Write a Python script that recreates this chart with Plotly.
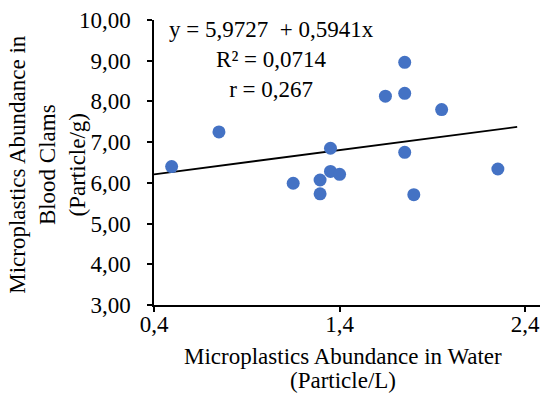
import plotly.graph_objects as go

water = [0.495, 0.75, 1.15, 1.295, 1.295, 1.351, 1.351, 1.40, 1.647, 1.751, 1.751, 1.751, 1.80, 1.95, 2.253]
clams = [6.40, 7.25, 5.99, 6.07, 5.73, 6.85, 6.28, 6.21, 8.13, 8.96, 8.20, 6.75, 5.71, 7.80, 6.34]

intercept = 5.9727
slope = 0.5941
trend_x = [0.4, 2.357]
trend_y = [intercept + slope * x for x in trend_x]

x_ticks = [0.4, 1.4, 2.4]
y_ticks = [3, 4, 5, 6, 7, 8, 9, 10]

FONT = "Liberation Serif, Times New Roman, serif"
fs = 23
fa = 23

fig = go.Figure()
fig.add_trace(go.Scatter(x=trend_x, y=trend_y, mode="lines",
                         line=dict(color="black", width=1.8), hoverinfo="skip"))
fig.add_trace(go.Scatter(x=water, y=clams, mode="markers",
                         marker=dict(color="#4472C4", size=13, line=dict(width=0))))

fig.update_layout(
    width=543, height=394,
    margin=dict(l=154, r=3, t=20, b=89, autoexpand=False),
    paper_bgcolor="white", plot_bgcolor="white",
    showlegend=False,
    separators=", ",
    font=dict(family=FONT, size=fs, color="black"),
)
fig.update_xaxes(range=[0.4, 2.48], tickvals=x_ticks, tickformat=".1f", automargin=False,
                 showgrid=False, zeroline=False, showline=True, linecolor="black", linewidth=1.5,
                 ticks="outside", ticklen=5, tickcolor="black", tickwidth=1.5,
                 ticklabelstandoff=-7,
                 tickfont=dict(family=FONT, size=fs, color="black"))
fig.update_yaxes(range=[3, 10], tickvals=y_ticks, tickformat=".2f", automargin=False,
                 showgrid=False, zeroline=False, showline=True, linecolor="black", linewidth=1.5,
                 ticks="outside", ticklen=5, tickcolor="black", tickwidth=1.5,
                 ticklabelstandoff=12,
                 tickfont=dict(family=FONT, size=fs, color="black"))

fig.add_annotation(text="y = 5,9727  + 0,5941x<br>R² = 0,0714<br>r = 0,267",
                   xref="paper", yref="paper", x=(271 - 154) / 386, y=(305 - 60) / 284.5,
                   xanchor="center", yanchor="middle", align="center", showarrow=False,
                   font=dict(family=FONT, size=fa, color="black"))
fig.add_annotation(text="Microplastics Abundance in Water",
                   xref="paper", yref="paper", x=(342.5 - 154) / 386, y=(305 - 356) / 284.5,
                   xanchor="center", yanchor="middle", align="center", showarrow=False,
                   font=dict(family=FONT, size=fs, color="black"))
fig.add_annotation(text="(Particle/L)",
                   xref="paper", yref="paper", x=(342.5 - 154) / 386, y=(305 - 380) / 284.5,
                   xanchor="center", yanchor="middle", align="center", showarrow=False,
                   font=dict(family=FONT, size=fs, color="black"))
fig.add_annotation(text="Microplastics Abundance in<br>Blood Clams<br>(Particle/g)",
                   xref="paper", yref="paper", x=(48 - 154) / 386, y=(305 - 165) / 284.5,
                   xanchor="center", yanchor="middle", align="center", showarrow=False,
                   textangle=-90,
                   font=dict(family=FONT, size=fs, color="black"))

fig.write_html("out.html", config={"displayModeBar": False},
               post_script="document.body.style.margin='0';document.body.style.padding='0';")
